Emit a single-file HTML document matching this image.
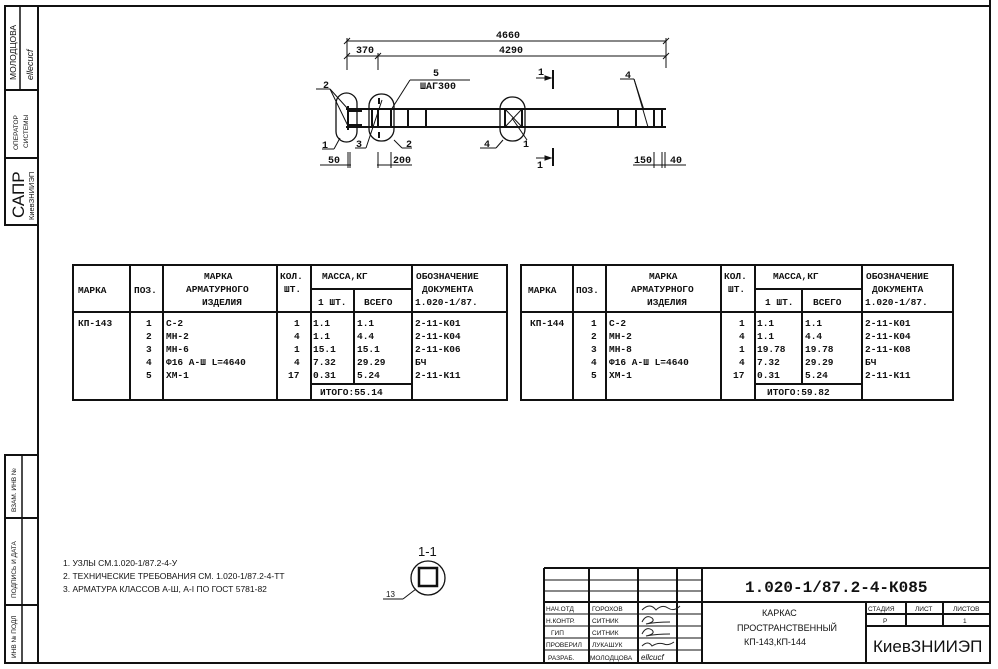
<!DOCTYPE html>
<html><head><meta charset="utf-8"><style>
html,body{margin:0;padding:0;background:#fff;}
svg{display:block;}
text{font-family:"Liberation Mono","DejaVu Sans Mono",monospace;fill:#111;font-weight:bold;}
.s{font-family:"Liberation Sans","DejaVu Sans",sans-serif;font-weight:normal;}
</style></head><body>
<svg width="998" height="669" viewBox="0 0 998 669" xmlns="http://www.w3.org/2000/svg">
<rect width="998" height="669" fill="#fff"/>
<g stroke="#111" fill="none">
<rect x="38" y="6" width="952" height="657" stroke-width="2"/>
<line x1="990" y1="0" x2="990" y2="6" stroke-width="2"/>
<rect x="5" y="6" width="33" height="219" stroke-width="2"/>
<line x1="5" y1="90" x2="38" y2="90" stroke-width="2"/>
<line x1="5" y1="158" x2="38" y2="158" stroke-width="2"/>
<line x1="20" y1="6" x2="20" y2="90" stroke-width="1.5"/>
<rect x="5" y="455" width="33" height="208" stroke-width="2"/>
<line x1="5" y1="518" x2="38" y2="518" stroke-width="2"/>
<line x1="5" y1="605" x2="38" y2="605" stroke-width="2"/>
<line x1="22" y1="455" x2="22" y2="663" stroke-width="1.5"/>

<g stroke-width="1">
<line x1="347" y1="41" x2="666" y2="41"/>
<line x1="347" y1="56" x2="666" y2="56"/>
<line x1="347" y1="38" x2="347" y2="70"/>
<line x1="378" y1="53" x2="378" y2="70"/>
<line x1="666" y1="38" x2="666" y2="68"/>
<line x1="344" y1="44" x2="350" y2="38"/><line x1="663" y1="44" x2="669" y2="38"/>
<line x1="344" y1="59" x2="350" y2="53"/><line x1="375" y1="59" x2="381" y2="53"/><line x1="663" y1="59" x2="669" y2="53"/>
</g>
<line x1="346" y1="109" x2="666" y2="109" stroke-width="2"/>
<line x1="346" y1="127" x2="666" y2="127" stroke-width="2"/>
<g stroke-width="2">
<line x1="348" y1="106" x2="348" y2="130"/>
<line x1="372" y1="109" x2="372" y2="127"/>
<line x1="378" y1="109" x2="378" y2="127"/>
<line x1="391" y1="109" x2="391" y2="127"/>
<line x1="408" y1="109" x2="408" y2="127"/>
<line x1="426" y1="109" x2="426" y2="127"/>
<line x1="505" y1="109" x2="505" y2="127"/>
<line x1="522" y1="109" x2="522" y2="127"/>
<line x1="618" y1="109" x2="618" y2="127"/>
<line x1="636" y1="109" x2="636" y2="127"/>
<line x1="654" y1="109" x2="654" y2="127"/>
<line x1="662" y1="109" x2="662" y2="127"/>
<line x1="379" y1="98" x2="379" y2="104"/><line x1="379" y1="132" x2="379" y2="138"/>
<line x1="348" y1="111" x2="362" y2="111"/><line x1="348" y1="125" x2="362" y2="125"/>
</g>
<line x1="505" y1="109" x2="522" y2="127" stroke-width="1"/>
<line x1="522" y1="109" x2="505" y2="127" stroke-width="1"/>
<g stroke-width="1.3">
<rect x="336" y="93" width="21" height="49" rx="10.5"/>
<rect x="369" y="94" width="25" height="47" rx="12"/>
<rect x="500" y="97" width="25" height="44" rx="12"/>
</g>
<g stroke-width="1">
<line x1="316" y1="89" x2="330" y2="89"/><line x1="330" y1="89" x2="348" y2="109"/><line x1="330" y1="89" x2="348" y2="126"/>
<line x1="322" y1="149" x2="334" y2="149"/><line x1="334" y1="149" x2="340" y2="138"/>
<line x1="355" y1="148" x2="366" y2="148"/><line x1="366" y1="148" x2="382" y2="100"/>
<line x1="402" y1="148" x2="412" y2="148"/><line x1="402" y1="148" x2="394" y2="140"/>
<line x1="410" y1="80" x2="470" y2="80"/><line x1="410" y1="80" x2="391" y2="110"/>
<line x1="480" y1="148" x2="496" y2="148"/><line x1="496" y1="148" x2="503" y2="140"/>
<line x1="527" y1="140" x2="512" y2="118"/>
<line x1="620" y1="79" x2="634" y2="79"/><line x1="634" y1="79" x2="648" y2="127"/><line x1="634" y1="79" x2="644" y2="110"/>
<line x1="553" y1="70" x2="553" y2="89" stroke-width="2"/><line x1="536" y1="78" x2="551" y2="78"/>
<line x1="553" y1="148" x2="553" y2="166" stroke-width="2"/><line x1="536" y1="158" x2="551" y2="158"/>
<line x1="320" y1="165" x2="351" y2="165"/><line x1="348" y1="152" x2="348" y2="168"/><line x1="350" y1="152" x2="350" y2="168"/>
<line x1="377" y1="165" x2="412" y2="165"/><line x1="378" y1="152" x2="378" y2="168"/><line x1="391" y1="152" x2="391" y2="168"/>
<line x1="633" y1="165" x2="686" y2="165"/><line x1="654" y1="152" x2="654" y2="168"/><line x1="662" y1="152" x2="662" y2="168"/><line x1="665" y1="152" x2="665" y2="168"/>
</g>
<polygon points="551,78 545,76 545,80" fill="#111"/>
<polygon points="551,158 545,156 545,160" fill="#111"/>

<g stroke-width="2">
<rect x="73" y="265" width="434" height="135"/>
<line x1="73" y1="312" x2="507" y2="312"/>
<line x1="130" y1="265" x2="130" y2="400"/>
<line x1="163" y1="265" x2="163" y2="400"/>
<line x1="277" y1="265" x2="277" y2="400"/>
<line x1="311" y1="265" x2="311" y2="400"/>
<line x1="412" y1="265" x2="412" y2="400"/>
<line x1="311" y1="289" x2="412" y2="289"/>
<line x1="354" y1="289" x2="354" y2="384"/>
<line x1="311" y1="384" x2="412" y2="384"/>
</g>
<g stroke-width="2">
<rect x="521" y="265" width="432" height="135"/>
<line x1="521" y1="312" x2="953" y2="312"/>
<line x1="573" y1="265" x2="573" y2="400"/>
<line x1="606" y1="265" x2="606" y2="400"/>
<line x1="721" y1="265" x2="721" y2="400"/>
<line x1="755" y1="265" x2="755" y2="400"/>
<line x1="862" y1="265" x2="862" y2="400"/>
<line x1="755" y1="289" x2="862" y2="289"/>
<line x1="802" y1="289" x2="802" y2="384"/>
<line x1="755" y1="384" x2="862" y2="384"/>
</g>

<circle cx="428" cy="578" r="17" stroke-width="1.3"/>
<rect x="419" y="568" width="18" height="18" stroke-width="2.5"/>
<line x1="383" y1="599" x2="403" y2="599" stroke-width="1"/><line x1="403" y1="599" x2="416" y2="589" stroke-width="1"/>

<g stroke-width="2">
<line x1="544" y1="568" x2="990" y2="568"/>
<line x1="544" y1="568" x2="544" y2="663"/>
<line x1="544" y1="602" x2="990" y2="602"/>
<line x1="589" y1="568" x2="589" y2="663"/>
<line x1="638" y1="568" x2="638" y2="663"/>
<line x1="677" y1="568" x2="677" y2="663"/>
<line x1="702" y1="568" x2="702" y2="663"/>
<line x1="866" y1="602" x2="866" y2="663"/>
<line x1="866" y1="614" x2="990" y2="614"/>
<line x1="866" y1="626" x2="990" y2="626"/>
<line x1="906" y1="602" x2="906" y2="626"/>
<line x1="943" y1="602" x2="943" y2="626"/>
</g>
<g stroke-width="1">
<line x1="544" y1="580" x2="702" y2="580"/>
<line x1="544" y1="591" x2="702" y2="591"/>
<line x1="544" y1="614" x2="702" y2="614"/>
<line x1="544" y1="626" x2="702" y2="626"/>
<line x1="544" y1="638" x2="702" y2="638"/>
<line x1="544" y1="650" x2="702" y2="650"/>
</g>
</g>

<g class="s" font-size="8">
<text class="s" transform="translate(16,80) rotate(-90)" font-size="8.5">МОЛОДЦОВА</text>
<text class="s" transform="translate(33,80) rotate(-90)" font-size="9" font-style="italic">ellecucf</text>
<text class="s" transform="translate(18,150) rotate(-90)" font-size="6.5">ОПЕРАТОР</text>
<text class="s" transform="translate(28,148) rotate(-90)" font-size="6.5">СИСТЕМЫ</text>
<text class="s" transform="translate(24,218) rotate(-90)" font-size="17">САПР</text>
<text class="s" transform="translate(34,220) rotate(-90)" font-size="7.5">КиевЗНИИЭП</text>
<text class="s" transform="translate(16,512) rotate(-90)" font-size="6.5">ВЗАМ. ИНВ №</text>
<text class="s" transform="translate(16,598) rotate(-90)" font-size="6.5">ПОДПИСЬ И ДАТА</text>
<text class="s" transform="translate(16,658) rotate(-90)" font-size="6.5">ИНВ № ПОДЛ</text>
</g>

<g font-size="10">
<text x="496" y="38">4660</text>
<text x="356" y="53">370</text>
<text x="499" y="53">4290</text>
<text x="433" y="76">5</text>
<text x="420" y="89">ШАГ300</text>
<text x="323" y="88">2</text>
<text x="322" y="148">1</text>
<text x="356" y="147">3</text>
<text x="406" y="147">2</text>
<text x="484" y="147">4</text>
<text x="523" y="147">1</text>
<text x="538" y="75">1</text>
<text x="537" y="168">1</text>
<text x="625" y="78">4</text>
<text x="328" y="163">50</text>
<text x="393" y="163">200</text>
<text x="634" y="163">150</text>
<text x="670" y="163">40</text>
</g>

<g font-size="9.5">
<text x="78" y="293">МАРКА</text>
<text x="134" y="293">ПОЗ.</text>
<text x="204" y="279">МАРКА</text>
<text x="186" y="292">АРМАТУРНОГО</text>
<text x="202" y="305">ИЗДЕЛИЯ</text>
<text x="280" y="279">КОЛ.</text>
<text x="284" y="292">ШТ.</text>
<text x="322" y="279">МАССА,КГ</text>
<text x="318" y="305">1 ШТ.</text>
<text x="364" y="305">ВСЕГО</text>
<text x="416" y="279">ОБОЗНАЧЕНИЕ</text>
<text x="422" y="292">ДОКУМЕНТА</text>
<text x="415" y="305">1.020-1/87.</text>
<text x="78" y="326">КП-143</text>
<text x="146" y="326">1</text><text x="146" y="339">2</text><text x="146" y="352">3</text><text x="146" y="365">4</text><text x="146" y="378">5</text>
<text x="166" y="326">С-2</text><text x="166" y="339">МН-2</text><text x="166" y="352">МН-6</text><text x="166" y="365">Ф16 А-Ш L=4640</text><text x="166" y="378">ХМ-1</text>
<text x="294" y="326">1</text><text x="294" y="339">4</text><text x="294" y="352">1</text><text x="294" y="365">4</text><text x="288" y="378">17</text>
<text x="313" y="326">1.1</text><text x="313" y="339">1.1</text><text x="313" y="352">15.1</text><text x="313" y="365">7.32</text><text x="313" y="378">0.31</text>
<text x="357" y="326">1.1</text><text x="357" y="339">4.4</text><text x="357" y="352">15.1</text><text x="357" y="365">29.29</text><text x="357" y="378">5.24</text>
<text x="320" y="395">ИТОГО:55.14</text>
<text x="415" y="326">2-11-К01</text><text x="415" y="339">2-11-К04</text><text x="415" y="352">2-11-К06</text><text x="415" y="365">БЧ</text><text x="415" y="378">2-11-К11</text>
</g>

<g font-size="9.5">
<text x="528" y="293">МАРКА</text>
<text x="576" y="293">ПОЗ.</text>
<text x="649" y="279">МАРКА</text>
<text x="631" y="292">АРМАТУРНОГО</text>
<text x="647" y="305">ИЗДЕЛИЯ</text>
<text x="724" y="279">КОЛ.</text>
<text x="728" y="292">ШТ.</text>
<text x="773" y="279">МАССА,КГ</text>
<text x="765" y="305">1 ШТ.</text>
<text x="813" y="305">ВСЕГО</text>
<text x="866" y="279">ОБОЗНАЧЕНИЕ</text>
<text x="872" y="292">ДОКУМЕНТА</text>
<text x="865" y="305">1.020-1/87.</text>
<text x="530" y="326">КП-144</text>
<text x="591" y="326">1</text><text x="591" y="339">2</text><text x="591" y="352">3</text><text x="591" y="365">4</text><text x="591" y="378">5</text>
<text x="609" y="326">С-2</text><text x="609" y="339">МН-2</text><text x="609" y="352">МН-8</text><text x="609" y="365">Ф16 А-Ш L=4640</text><text x="609" y="378">ХМ-1</text>
<text x="739" y="326">1</text><text x="739" y="339">4</text><text x="739" y="352">1</text><text x="739" y="365">4</text><text x="733" y="378">17</text>
<text x="757" y="326">1.1</text><text x="757" y="339">1.1</text><text x="757" y="352">19.78</text><text x="757" y="365">7.32</text><text x="757" y="378">0.31</text>
<text x="805" y="326">1.1</text><text x="805" y="339">4.4</text><text x="805" y="352">19.78</text><text x="805" y="365">29.29</text><text x="805" y="378">5.24</text>
<text x="767" y="395">ИТОГО:59.82</text>
<text x="865" y="326">2-11-К01</text><text x="865" y="339">2-11-К04</text><text x="865" y="352">2-11-К08</text><text x="865" y="365">БЧ</text><text x="865" y="378">2-11-К11</text>
</g>

<g class="s" font-size="8.5">
<text class="s" x="63" y="566">1. УЗЛЫ СМ.1.020-1/87.2-4-У</text>
<text class="s" x="63" y="579">2. ТЕХНИЧЕСКИЕ ТРЕБОВАНИЯ СМ. 1.020-1/87.2-4-ТТ</text>
<text class="s" x="63" y="592">3. АРМАТУРА КЛАССОВ А-Ш, А-I ПО ГОСТ 5781-82</text>
<text class="s" x="418" y="556" font-size="13">1-1</text>
<text class="s" x="386" y="597" font-size="8">13</text>
</g>

<text x="745" y="592" font-size="16">1.020-1/87.2-4-К085</text>
<g class="s" font-size="6.5">
<text class="s" x="546" y="611">НАЧ.ОТД</text><text class="s" x="592" y="611">ГОРОХОВ</text>
<text class="s" x="546" y="623">Н.КОНТР.</text><text class="s" x="592" y="623">СИТНИК</text>
<text class="s" x="551" y="635">ГИП</text><text class="s" x="592" y="635">СИТНИК</text>
<text class="s" x="546" y="647">ПРОВЕРИЛ</text><text class="s" x="592" y="647">ЛУКАШУК</text>
<text class="s" x="548" y="660">РАЗРАБ.</text><text class="s" x="590" y="660">МОЛОДЦОВА</text>
<text class="s" x="641" y="660" font-style="italic" font-size="8">ellcucf</text>
<text class="s" x="868" y="611">СТАДИЯ</text><text class="s" x="915" y="611">ЛИСТ</text><text class="s" x="953" y="611">ЛИСТОВ</text>
<text class="s" x="883" y="623">Р</text><text class="s" x="963" y="623">1</text>
</g>
<g class="s" font-size="9">
<text class="s" x="762" y="616">КАРКАС</text>
<text class="s" x="737" y="631">ПРОСТРАНСТВЕННЫЙ</text>
<text class="s" x="744" y="645">КП-143,КП-144</text>
</g>
<text class="s" x="873" y="652" font-size="17">КиевЗНИИЭП</text>
<g stroke="#222" fill="none" stroke-width="1">
<path d="M642 610 q8 -8 14 0 q6 -6 12 -2 q6 4 12 -2"/>
<path d="M642 622 q4 -8 10 -4 q4 4 -6 6 q10 -2 24 -2"/>
<path d="M642 634 q4 -8 10 -4 q4 4 -6 6 q10 -2 24 -2"/>
<path d="M642 646 q6 -6 10 0 q6 -4 12 -2 q4 2 10 -2"/>
</g>
</svg>
</body></html>
